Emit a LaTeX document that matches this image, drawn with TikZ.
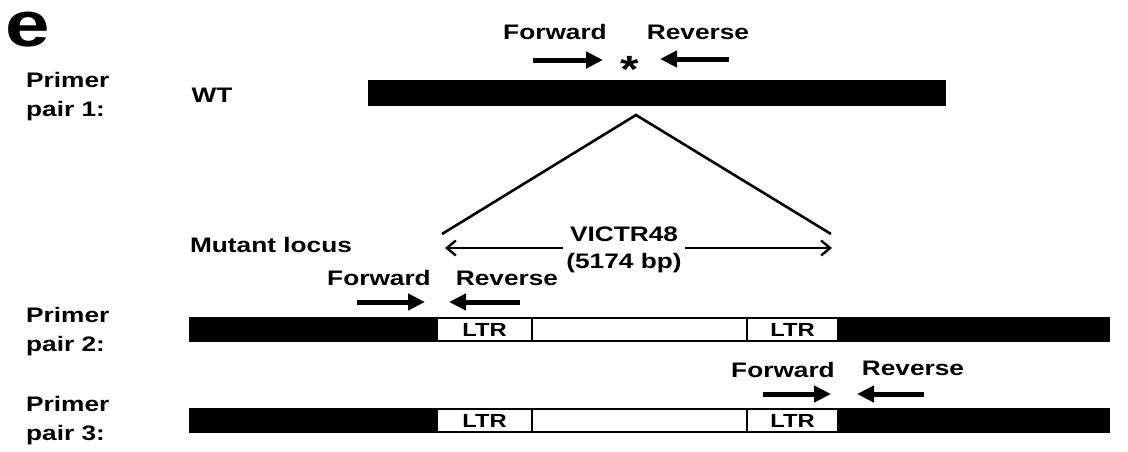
\documentclass[tikz,border=0pt]{standalone}
\usepackage{fontspec}
\setmainfont{Liberation Sans}[FakeStretch=1.25]
\usetikzlibrary{arrows.meta}

\begin{document}
\begin{tikzpicture}[x=1pt,y=-1pt,
  lbl/.style={font=\fontsize{21}{29}\selectfont\bfseries, inner sep=0pt},
  side/.style={lbl, align=left, anchor=north west},
  primer/.style={line width=5pt, -{Triangle[length=17pt,width=16pt]}},
  ltrbox/.style={draw=black, fill=white, line width=1.5pt, minimum height=22pt,
    inner sep=0pt, font=\fontsize{19}{22}\selectfont\bfseries},
  thin/.style={line width=2.6pt},
  span/.style={line width=2.8pt, {Straight Barb[length=9pt,width=15pt,line width=2.4pt]}-{Straight Barb[length=9pt,width=15pt,line width=2.4pt]}}]

\useasboundingbox (0,0) rectangle (1128,451);

% panel letter and row labels
\node[font=\fontsize{64}{66}\selectfont\bfseries, inner sep=0pt, anchor=base] (panel) at (28,46) {e};
\node[side] (p1) at (26,72) {Primer\\pair 1:};
\node[side] (p2) at (26,307) {Primer\\pair 2:};
\node[side] (p3) at (26,396) {Primer\\pair 3:};

% wild-type locus
\node[lbl, anchor=base] (wt) at (212,102) {WT};
\fill[black] (368,80) rectangle (946,106);
\node[lbl, anchor=base] (f1t) at (555,39) {Forward};
\node[lbl, anchor=base] (r1t) at (698,39) {Reverse};
\coordinate (f1a) at (533,60);  \coordinate (f1b) at (603,60);
\coordinate (r1a) at (729,59);  \coordinate (r1b) at (660,59);
\draw[primer] (f1a) -- (f1b);
\draw[primer] (r1a) -- (r1b);
\node[font=\fontsize{38}{40}\selectfont\bfseries, inner sep=0pt, anchor=north] (star) at (630,56) {*};

% insertion wedge
\coordinate (apex) at (636,115);
\coordinate (insl) at (442,234);
\coordinate (insr) at (831,234);
\draw[thin] (insl) -- (apex) -- (insr);

% insert span
\node[lbl, anchor=base] (mut) at (271,252) {Mutant locus};
\coordinate (spl) at (445,248);
\coordinate (spr) at (832,248);
\draw[span] (spl) -- (spr);
\node[lbl, fill=white, align=center, inner xsep=3pt, inner ysep=1pt, font=\fontsize{21}{27}\selectfont\bfseries] (victr) at (624,250) {VICTR48\\(5174 bp)};

% primer pair 2
\node[lbl, anchor=base] (f2t) at (379,285) {Forward};
\node[lbl, anchor=base] (r2t) at (507,285) {Reverse};
\coordinate (f2a) at (357,302);  \coordinate (f2b) at (425,302);
\coordinate (r2a) at (520,302);  \coordinate (r2b) at (449,302);
\draw[primer] (f2a) -- (f2b);
\draw[primer] (r2a) -- (r2b);
\fill[black] (189,317) rectangle (1110,342);
\node[ltrbox, minimum width=95pt] (l2a) at (484.5,329.5) {LTR};
\node[ltrbox, minimum width=215pt] (m2) at (639.5,329.5) {};
\node[ltrbox, minimum width=91pt] (l2b) at (792.5,329.5) {LTR};

% primer pair 3
\node[lbl, anchor=base] (f3t) at (783,377) {Forward};
\node[lbl, anchor=base] (r3t) at (913,375) {Reverse};
\coordinate (f3a) at (763,394);  \coordinate (f3b) at (831,394);
\coordinate (r3a) at (924,394);  \coordinate (r3b) at (857,394);
\draw[primer] (f3a) -- (f3b);
\draw[primer] (r3a) -- (r3b);
\fill[black] (189,408) rectangle (1110,433);
\node[ltrbox, minimum width=95pt] (l3a) at (484.5,420.5) {LTR};
\node[ltrbox, minimum width=215pt] (m3) at (639.5,420.5) {};
\node[ltrbox, minimum width=91pt] (l3b) at (792.5,420.5) {LTR};
\end{tikzpicture}
\end{document}
